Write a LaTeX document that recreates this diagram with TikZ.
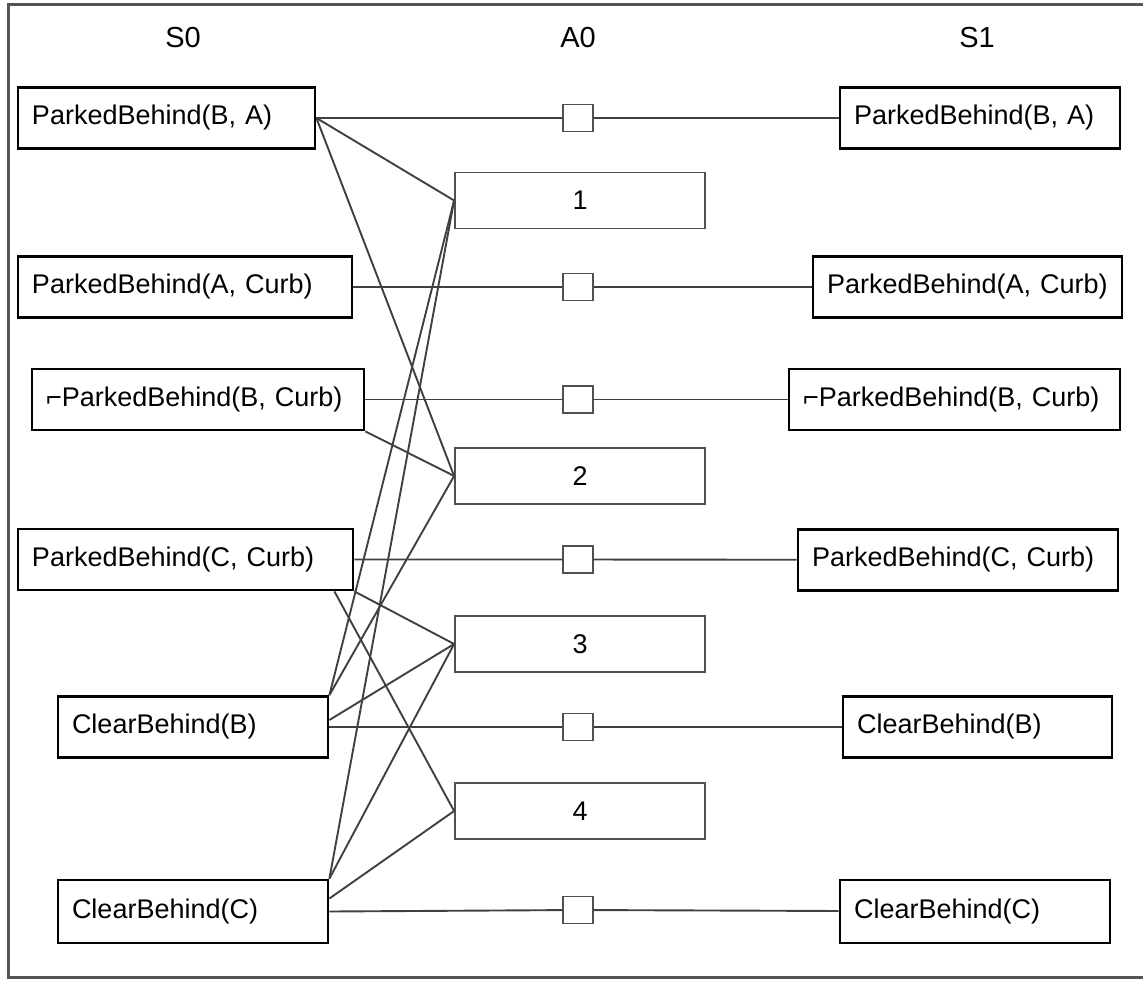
\documentclass[tikz,border=0pt]{standalone}
\usepackage{fontspec}
\setmainfont{Liberation Sans}
\usetikzlibrary{positioning}
\definecolor{linegray}{HTML}{404040}
\definecolor{framegray}{HTML}{555555}
\definecolor{actgray}{HTML}{505050}
\tikzset{
  fact/.style={draw=black,line width=1.4pt,fill=white,inner ysep=0pt,inner xsep=7pt,minimum height=30.5pt,text width=#1,align=left,font=\fontsize{13.5}{16}\selectfont},
  act/.style={draw=actgray,line width=0.9pt,fill=white,inner sep=0pt,minimum width=125pt,minimum height=28pt,font=\fontsize{13.5}{16}\selectfont},
  noop/.style={draw=actgray,line width=0.8pt,fill=white,inner sep=0pt,minimum width=15pt,minimum height=13.5pt},
  head/.style={inner sep=0pt,font=\fontsize{14.5}{17}\selectfont},
  link/.style={draw=linegray,line width=0.95pt},
  frameline/.style={draw=framegray,line width=1.5pt}
}
\begin{document}
\begin{tikzpicture}[x=0.5pt,y=-0.5pt]
  \useasboundingbox (0,0) rectangle (1143,983);
  \draw[frameline] (8,5) rectangle (1175,977);
  \node[head] (hs0) at (183,38) {S0};
  \node[head] (ha0) at (578,38) {A0};
  \node[head] (hs1) at (977,38) {S1};

  \node[act] (a1) at (580,200.5) {1};
  \node[act] (a2) at (580,476) {2};
  \node[act] (a3) at (580,644) {3};
  \node[act] (a4) at (580,811) {4};

  \node[noop] (n1) at (578,118) {};
  \node[noop] (n2) at (578,287) {};
  \node[noop] (n3) at (578,399.5) {};
  \node[noop] (n4) at (578,559.5) {};
  \node[noop] (n5) at (578,727) {};
  \node[noop] (n6) at (578,910) {};

  \node[fact=134.5pt] (pba0) at (166.5,118) {ParkedBehind(B, A)};
  \node[fact=153pt] (pbacurb0) at (185,287) {ParkedBehind(A, Curb)};
  \node[fact=152pt] (npbbcurb0) at (198,399.5) {⌐ParkedBehind(B, Curb)};
  \node[fact=153.5pt] (pbccurb0) at (185.5,559.5) {ParkedBehind(C, Curb)};
  \node[fact=121pt] (cbb0) at (193,727) {ClearBehind(B)};
  \node[fact=121pt,minimum height=31.5pt] (cbc0) at (193,911.5) {ClearBehind(C)};

  \node[fact=126pt] (pba1) at (980,118) {ParkedBehind(B, A)};
  \node[fact=140.5pt] (pbacurb1) at (967.5,287) {ParkedBehind(A, Curb)};
  \node[fact=151.5pt] (npbbcurb1) at (954.5,399.5) {⌐ParkedBehind(B, Curb)};
  \node[fact=146pt] (pbccurb1) at (958,560) {ParkedBehind(C, Curb)};
  \node[fact=120.5pt] (cbb1) at (977.5,727) {ClearBehind(B)};
  \node[fact=121pt,minimum height=31.5pt] (cbc1) at (975,911.5) {ClearBehind(C)};

  \draw[link] (pba0.east) -- (n1) -- (pba1);
  \draw[link] (pbacurb0.east) -- (n2) -- (pbacurb1);
  \draw[link] (npbbcurb0.east) -- (n3) -- (npbbcurb1);
  \draw[link] (pbccurb0.east) -- (n4) -- (pbccurb1);
  \draw[link] (cbb0.east) -- (n5) -- (cbb1);
  \draw[link] (cbc0.east) -- (n6) -- (cbc1);

  \draw[link] (pba0.east) -- (a1.west);
  \draw[link] (cbb0.north east) -- (a1.west);
  \draw[link] (cbc0.north east) -- (a1.west);

  \draw[link] (pba0.east) -- (a2.west);
  \draw[link] (npbbcurb0.south east) -- (a2.west);
  \draw[link] (cbb0.north east) -- (a2.west);

  \draw[link] (pbccurb0.south east) -- (a3.west);
  \draw[link] ([yshift=3.5pt]cbb0.east) -- (a3.west);
  \draw[link] (cbc0.north east) -- (a3.west);

  \draw[link] ([xshift=-10pt]pbccurb0.south east) -- (a4.west);
  \draw[link] ([yshift=6.5pt]cbc0.east) -- (a4.west);
\end{tikzpicture}
\end{document}
